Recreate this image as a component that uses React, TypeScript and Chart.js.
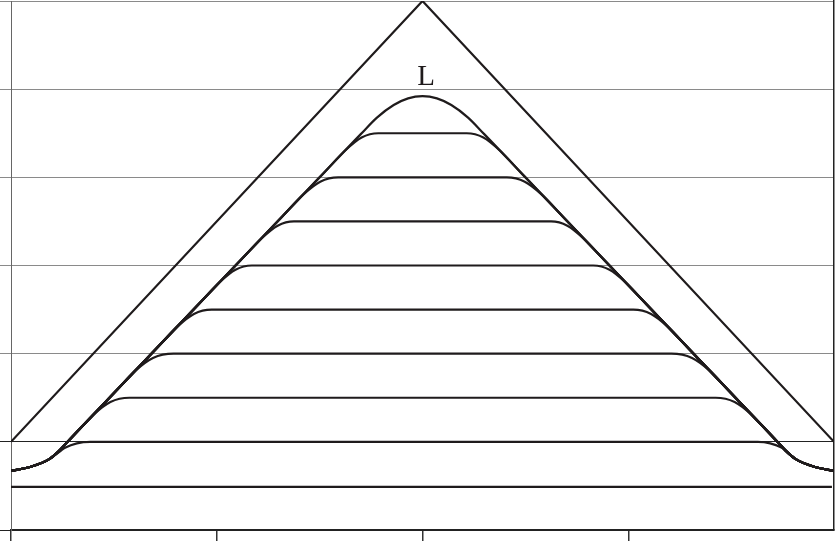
import { useEffect, useRef } from 'react';
import { Chart, registerables } from 'chart.js';

Chart.register(...registerables);

// Axis ranges / ticks
const xTicks = [0, 1, 2, 3, 4];
const yTicks = [0, 1, 2, 3, 4, 5, 6];

// Outer triangle
const triangleX = [0, 2, 4];
const triangleY = [1, 6, 1];

// Bottom baseline
const baseX = [0, 3.99];
const baseY = [0.49, 0.49];

// Flattened profiles (level 1.0 ... 4.5)
const curve10X = [0, 0.1, 0.19, 0.265, 0.32, 0.385, 3.63, 3.69, 3.745, 3.81, 3.9, 4];
const curve10Y = [0.67, 0.72, 0.81, 0.935, 0.983, 1.0, 1.0, 0.983, 0.935, 0.81, 0.72, 0.67];

const curve15X = [0, 0.1, 0.19, 0.235, 0.275, 0.399, 0.483, 0.575, 3.425, 3.517, 3.601, 3.725, 3.765, 3.81, 3.9, 4];
const curve15Y = [0.67, 0.72, 0.81, 0.9, 1.0, 1.304, 1.451, 1.5, 1.5, 1.451, 1.304, 1.0, 0.9, 0.81, 0.72, 0.67];

const curve20X = [0, 0.1, 0.19, 0.235, 0.275, 0.503, 0.603, 0.69, 0.79, 3.21, 3.31, 3.397, 3.497, 3.725, 3.765, 3.81, 3.9, 4];
const curve20Y = [0.67, 0.72, 0.81, 0.9, 1.0, 1.559, 1.804, 1.951, 2.0, 2.0, 1.951, 1.804, 1.559, 1.0, 0.9, 0.81, 0.72, 0.67];

const curve25X = [0, 0.1, 0.19, 0.235, 0.275, 0.707, 0.807, 0.889, 0.975, 3.025, 3.111, 3.193, 3.293, 3.725, 3.765, 3.81, 3.9, 4];
const curve25Y = [0.67, 0.72, 0.81, 0.9, 1.0, 2.059, 2.304, 2.451, 2.5, 2.5, 2.451, 2.304, 2.059, 1.0, 0.9, 0.81, 0.72, 0.67];

const curve30X = [0, 0.1, 0.19, 0.235, 0.275, 0.911, 1.011, 1.091, 1.17, 2.83, 2.909, 2.989, 3.089, 3.725, 3.765, 3.81, 3.9, 4];
const curve30Y = [0.67, 0.72, 0.81, 0.9, 1.0, 2.559, 2.804, 2.951, 3.0, 3.0, 2.951, 2.804, 2.559, 1.0, 0.9, 0.81, 0.72, 0.67];

const curve35X = [0, 0.1, 0.19, 0.235, 0.275, 1.116, 1.216, 1.296, 1.375, 2.625, 2.704, 2.784, 2.884, 3.725, 3.765, 3.81, 3.9, 4];
const curve35Y = [0.67, 0.72, 0.81, 0.9, 1.0, 3.059, 3.304, 3.451, 3.5, 3.5, 3.451, 3.304, 3.059, 1.0, 0.9, 0.81, 0.72, 0.67];

const curve40X = [0, 0.1, 0.19, 0.235, 0.275, 1.32, 1.42, 1.503, 1.59, 2.41, 2.497, 2.58, 2.68, 3.725, 3.765, 3.81, 3.9, 4];
const curve40Y = [0.67, 0.72, 0.81, 0.9, 1.0, 3.559, 3.804, 3.951, 4.0, 4.0, 3.951, 3.804, 3.559, 1.0, 0.9, 0.81, 0.72, 0.67];

const curve45X = [0, 0.1, 0.19, 0.235, 0.275, 1.524, 1.624, 1.704, 1.785, 2.215, 2.296, 2.376, 2.476, 3.725, 3.765, 3.81, 3.9, 4];
const curve45Y = [0.67, 0.72, 0.81, 0.9, 1.0, 4.059, 4.304, 4.451, 4.5, 4.5, 4.451, 4.304, 4.059, 1.0, 0.9, 0.81, 0.72, 0.67];

// Limiting profile "L"
const peakX = [0, 0.1, 0.19, 0.235, 0.275, 1.0, 1.5, 1.7, 1.78, 1.86, 1.93, 2.0, 2.07, 2.14, 2.22, 2.3, 2.5, 3.0, 3.725, 3.765, 3.81, 3.9, 4];
const peakY = [0.67, 0.72, 0.81, 0.9, 1.0, 2.776, 4.0, 4.49, 4.68, 4.82, 4.895, 4.92, 4.895, 4.82, 4.68, 4.49, 4.0, 2.776, 1.0, 0.9, 0.81, 0.72, 0.67];

const peakLabel = 'L';
const peakLabelX = 2.017;
const peakLabelY = 5.045;

const INK = '#1f1b1c';

const toPoints = (xs: number[], ys: number[]) => xs.map((x, i) => ({ x, y: ys[i] }));

const labelPlugin = {
  id: 'peakLabel',
  afterDatasetsDraw(chart: any) {
    const { ctx, scales } = chart;
    const px = scales.x.getPixelForValue(peakLabelX);
    const py = scales.y.getPixelForValue(peakLabelY);
    ctx.save();
    ctx.font = '29px "Liberation Serif", "DejaVu Serif", serif';
    ctx.fillStyle = INK;
    ctx.textAlign = 'center';
    ctx.textBaseline = 'alphabetic';
    ctx.fillText(peakLabel, px, py);
    ctx.restore();
  },
};

export default function App() {
  const ref = useRef<HTMLCanvasElement>(null);

  useEffect(() => {
    if (!ref.current) return;
    const profiles: [number[], number[]][] = [
      [curve10X, curve10Y],
      [curve15X, curve15Y],
      [curve20X, curve20Y],
      [curve25X, curve25Y],
      [curve30X, curve30Y],
      [curve35X, curve35Y],
      [curve40X, curve40Y],
      [curve45X, curve45Y],
      [peakX, peakY],
    ];
    const curveSets = profiles.map(([xs, ys]) => ({
      data: toPoints(xs, ys),
      borderColor: INK,
      borderWidth: 2.2,
      pointRadius: 0,
      fill: false,
      cubicInterpolationMode: 'monotone' as const,
    }));

    const chart = new Chart(ref.current, {
      type: 'line',
      data: {
        datasets: [
          {
            data: toPoints(triangleX, triangleY),
            borderColor: INK,
            borderWidth: 2.2,
            pointRadius: 0,
            fill: false,
            tension: 0,
          },
          {
            data: toPoints(baseX, baseY),
            borderColor: INK,
            borderWidth: 2.3,
            pointRadius: 0,
            fill: false,
            tension: 0,
          },
          ...curveSets,
        ],
      },
      options: {
        animation: false,
        responsive: true,
        maintainAspectRatio: false,
        layout: { padding: { left: 0, right: 1, top: 1, bottom: 0 } },
        plugins: {
          legend: { display: false },
          tooltip: { enabled: false },
        },
        scales: {
          x: {
            type: 'linear',
            min: xTicks[0],
            max: xTicks[xTicks.length - 1],
            afterBuildTicks: (scale: any) => {
              scale.ticks = xTicks.map((v) => ({ value: v }));
            },
            ticks: { display: false },
            grid: {
              drawOnChartArea: false,
              drawTicks: true,
              tickLength: 11,
              lineWidth: 1.5,
              color: (c: any) =>
                c.tick && c.tick.value === xTicks[xTicks.length - 1] ? 'rgba(0,0,0,0)' : '#333',
            },
            border: { display: true, color: '#222', width: 1.5 },
          },
          y: {
            type: 'linear',
            min: yTicks[0],
            max: yTicks[yTicks.length - 1],
            afterBuildTicks: (scale: any) => {
              scale.ticks = yTicks.map((v) => ({ value: v }));
            },
            ticks: { display: false },
            grid: {
              drawOnChartArea: true,
              drawTicks: true,
              tickLength: 11,
              lineWidth: 1,
              color: (c: any) => (c.tick && c.tick.value <= 1 ? '#222' : '#8a8a8a'),
            },
            border: { display: true, color: '#666', width: 1 },
          },
          yRight: {
            type: 'linear',
            position: 'right',
            display: true,
            ticks: { display: false },
            grid: { display: false, drawTicks: false, tickLength: 0 },
            border: { display: true, color: '#222', width: 1.5 },
          },
        },
      },
      plugins: [labelPlugin],
    });

    return () => chart.destroy();
  }, []);

  return (
    <div
      style={{
        position: 'fixed',
        left: 0,
        top: 0,
        width: 835,
        height: 541,
        background: '#ffffff',
      }}
    >
      <canvas ref={ref} />
    </div>
  );
}
